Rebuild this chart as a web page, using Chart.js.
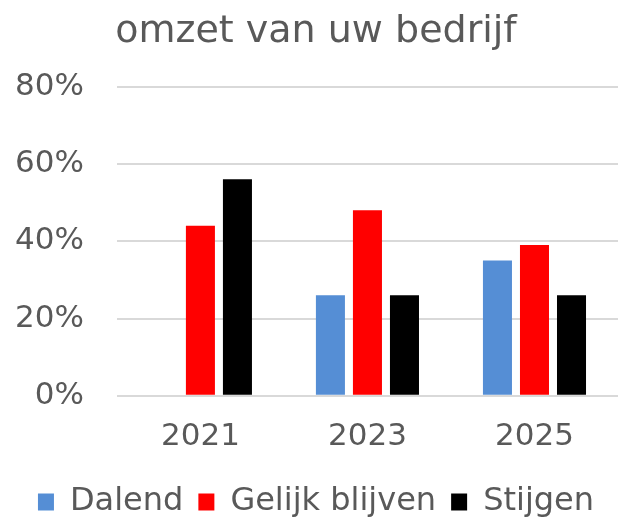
<!DOCTYPE html>
<html>
<head>
<meta charset="utf-8">
<script src="https://cdn.jsdelivr.net/npm/chart.js@4"></script>
<style>
  html, body { margin: 0; padding: 0; background: #fff; }
  #wrap { width: 618px; height: 517px; }
</style>
</head>
<body>
<div id="wrap"><canvas id="omzetChart"></canvas></div>
<script>
document.addEventListener('DOMContentLoaded', function() {
    const data = [
        { Jaar: '2021', Dalend: 0, GelijkBlijven: 44, Stijgen: 56 },
        { Jaar: '2023', Dalend: 26, GelijkBlijven: 48, Stijgen: 26 },
        { Jaar: '2025', Dalend: 35, GelijkBlijven: 39, Stijgen: 26 },
    ];

    const textColor = '#595959';
    const font = 'Verdana, "DejaVu Sans", sans-serif';

    const omzetChart = new Chart(document.getElementById('omzetChart').getContext('2d'), {
        type: 'bar',
        data: {
            labels: data.map(item => item.Jaar),
            datasets: [
                {
                    label: 'Dalend',
                    data: data.map(item => item.Dalend),
                    backgroundColor: '#558ed5',
                },
                {
                    label: 'Gelijk blijven',
                    data: data.map(item => item.GelijkBlijven),
                    backgroundColor: '#ff0000',
                },
                {
                    label: 'Stijgen',
                    data: data.map(item => item.Stijgen),
                    backgroundColor: '#000000',
                },
            ],
        },
        options: {
            responsive: true,
            maintainAspectRatio: false,
            animation: false,
            categoryPercentage: 0.665,
            barPercentage: 0.784,
            layout: {
                padding: { left: 14, right: 0, top: 4, bottom: -11 },
            },
            plugins: {
                title: {
                    display: true,
                    text: 'omzet van uw bedrijf',
                    color: textColor,
                    font: { family: font, size: 38, weight: 'normal' },
                    padding: { top: 5, bottom: 32 },
                },
                legend: {
                    position: 'bottom',
                    labels: {
                        color: textColor,
                        font: { family: font, size: 32 },
                        boxWidth: 16,
                        boxHeight: 17,
                        padding: 15,
                    },
                },
                tooltip: { enabled: false },
            },
            scales: {
                x: {
                    grid: { display: false },
                    border: { display: false },
                    ticks: {
                        color: textColor,
                        font: { family: font, size: 31 },
                        padding: 15,
                    },
                },
                y: {
                    min: 0,
                    max: 80,
                    border: { display: false },
                    grid: {
                        color: '#d9d9d9',
                        lineWidth: 2,
                        drawTicks: true,
                        tickLength: 32,
                        tickColor: 'rgba(0,0,0,0)',
                    },
                    ticks: {
                        stepSize: 20,
                        color: textColor,
                        font: { family: font, size: 31 },
                        padding: 1,
                        callback: value => value + '%',
                    },
                },
            },
        },
    });
});
</script>
</body>
</html>
